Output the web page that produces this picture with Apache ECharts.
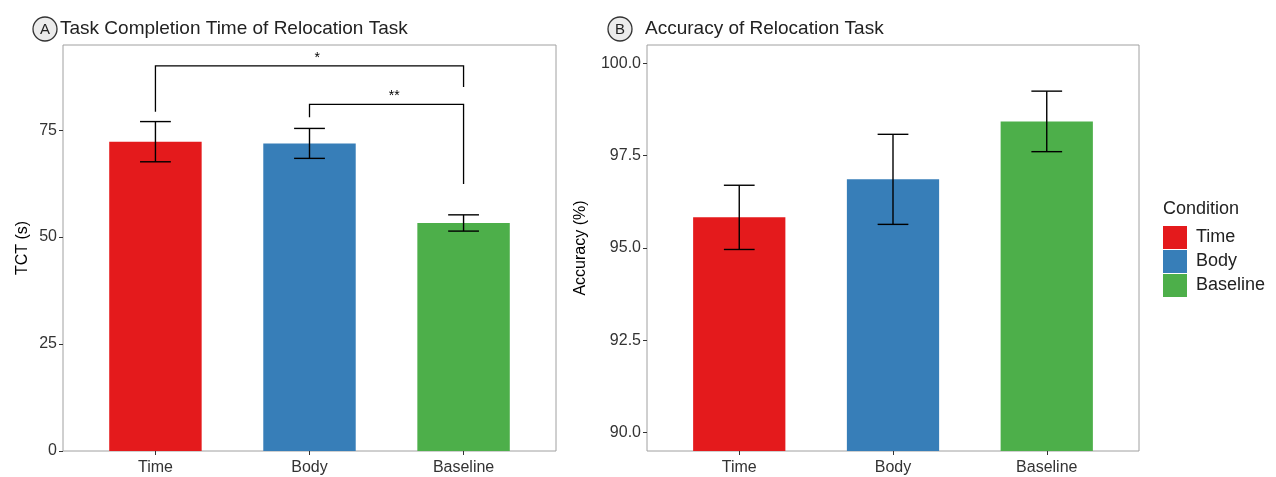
<!DOCTYPE html>
<html>
<head>
<meta charset="utf-8">
<script src="https://cdn.jsdelivr.net/npm/echarts@6/dist/echarts.min.js"></script>
<style>
  html, body { margin: 0; padding: 0; background: #fff; }
  #chart { width: 1276px; height: 477px; }
</style>
</head>
<body>
<div id="chart"></div>
<script>
"use strict";
/** Conditions shown on both panels (x categories and legend) */
const conditions = ["Time", "Body", "Baseline"];
/** Panel A: task completion time, mean and error half-width */
const tctMean = [72.3, 71.9, 53.3];
const tctErr = [4.7, 3.5, 1.9];
const tctTicks = [0, 25, 50, 75];
/** Panel B: accuracy, mean and error half-width */
const accMean = [95.83, 96.86, 98.43];
const accErr = [0.87, 1.22, 0.82];
const accTicks = [90, 92.5, 95, 97.5, 100];
/** Significance brackets on panel A: [from, to] category positions */
const sigPairs = [[1, 3], [2, 3]];
const sigTop = [90.0, 81.0];
const sigLegEnds = [[79.3, 85.1], [78.0, 62.4]];
const sigLabels = ["*", "**"];

const palette = ["#E41A1C", "#377EB8", "#4DAF4A"];
const FONT = "Liberation Sans";
const TICK_COLOR = "#333";

let chart = echarts.init(document.getElementById("chart"));

function RenderBar(params, api) {
    const x = api.value(0), y = api.value(1);
    const cs = params.coordSys;
    const left = api.coord([x - 0.3, y]);
    const right = api.coord([x + 0.3, y]);
    const bottom = cs.y + cs.height;
    return {
        type: "rect",
        shape: { x: left[0], y: left[1], width: right[0] - left[0], height: bottom - left[1] },
        style: api.style()
    };
}

function RenderErrorBar(params, api) {
    const x = api.value(0), lo = api.value(1), hi = api.value(2);
    const top = api.coord([x, hi]);
    const bot = api.coord([x, lo]);
    const capL = api.coord([x - 0.1, hi])[0];
    const capR = api.coord([x + 0.1, hi])[0];
    const lineStyle = { stroke: "#000", lineWidth: 1.4 };
    return {
        type: "group",
        children: [
            { type: "line", shape: { x1: top[0], y1: top[1], x2: bot[0], y2: bot[1] }, style: lineStyle },
            { type: "line", shape: { x1: capL, y1: top[1], x2: capR, y2: top[1] }, style: lineStyle },
            { type: "line", shape: { x1: capL, y1: bot[1], x2: capR, y2: bot[1] }, style: lineStyle }
        ]
    };
}

function RenderBracket(params, api) {
    const i = params.dataIndex;
    const x1 = api.value(0), x2 = api.value(1), yTop = api.value(2);
    const a = api.coord([x1, sigLegEnds[i][0]]);
    const b = api.coord([x1, yTop]);
    const c = api.coord([x2, yTop]);
    const d = api.coord([x2, sigLegEnds[i][1]]);
    const mid = api.coord([(x1 + x2) / 2 + 0.05, yTop]);
    return {
        type: "group",
        children: [
            {
                type: "polyline",
                shape: { points: [a, b, c, d] },
                style: { stroke: "#000", lineWidth: 1.3, fill: null }
            },
            {
                type: "text",
                style: {
                    x: mid[0], y: mid[1] - 1, text: sigLabels[i],
                    fontSize: 14, fontFamily: FONT, fill: "#000",
                    align: "center", verticalAlign: "bottom"
                }
            }
        ]
    };
}

function BarSeries(gridIdx, means) {
    return conditions.map((name, i) => ({
        type: "custom",
        name: name,
        xAxisIndex: gridIdx,
        yAxisIndex: gridIdx,
        itemStyle: { color: palette[i] },
        clip: true,
        renderItem: RenderBar,
        data: [[i + 1, means[i]]],
        z: 2
    }));
}

function ErrorSeries(gridIdx, means, errs) {
    return {
        type: "custom",
        xAxisIndex: gridIdx,
        yAxisIndex: gridIdx,
        renderItem: RenderErrorBar,
        data: means.map((m, i) => [i + 1, m - errs[i], m + errs[i]]),
        z: 3
    };
}

function XAxis(gridIdx) {
    return {
        type: "value",
        gridIndex: gridIdx,
        min: 0.4,
        max: 3.6,
        splitLine: { show: false },
        axisLine: { show: false },
        axisTick: { show: true, length: 4, customValues: [1, 2, 3], lineStyle: { color: "#333" } },
        axisLabel: {
            customValues: [1, 2, 3],
            formatter: (v) => conditions[Math.round(v) - 1] || "",
            color: TICK_COLOR, fontSize: 16, fontFamily: FONT, margin: 9
        }
    };
}

function YAxis(gridIdx, min, max, ticks, name, nameGap, digits) {
    return {
        type: "value",
        gridIndex: gridIdx,
        min: min,
        max: max,
        name: name,
        nameLocation: "middle",
        nameGap: nameGap,
        nameTextStyle: { color: "#000", fontSize: 16, fontFamily: FONT },
        splitLine: { show: false },
        axisLine: { show: false },
        axisTick: { show: true, length: 4, customValues: ticks, lineStyle: { color: "#333" } },
        axisLabel: {
            customValues: ticks,
            formatter: (v) => v.toFixed(digits),
            color: TICK_COLOR, fontSize: 16, fontFamily: FONT, margin: 6
        }
    };
}

function PanelTag(cx, cy, letter) {
    return [
        { type: "circle", shape: { cx: cx, cy: cy, r: 12 }, style: { fill: "#EBEBEB", stroke: "#333", lineWidth: 1.3 } },
        {
            type: "text",
            style: { x: cx, y: cy + 1, text: letter, fontSize: 15, fontFamily: FONT, fill: "#222", align: "center", verticalAlign: "middle" }
        }
    ];
}

const option = {
    animation: false,
    backgroundColor: "#fff",
    title: [
        { text: "Task Completion Time of Relocation Task", left: 60, top: 19, padding: 0, textStyle: { fontSize: 19, fontWeight: "normal", fontFamily: FONT, color: "#222" } },
        { text: "Accuracy of Relocation Task", left: 645, top: 19, padding: 0, textStyle: { fontSize: 19, fontWeight: "normal", fontFamily: FONT, color: "#222" } },
        { text: "Condition", left: 1163, top: 200, padding: 0, textStyle: { fontSize: 18, fontWeight: "normal", fontFamily: FONT, color: "#222" } }
    ],
    legend: {
        data: conditions,
        orient: "vertical",
        left: 1163,
        top: 226,
        padding: 0,
        icon: "rect",
        itemWidth: 24,
        itemHeight: 23,
        itemGap: 1,
        selectedMode: false,
        textStyle: { fontSize: 18, fontFamily: FONT, color: "#222", padding: [0, 0, 0, 4] }
    },
    grid: [
        { left: 63, width: 493, top: 45, height: 406, show: true, borderColor: "#A0A0A0", borderWidth: 1, backgroundColor: "transparent" },
        { left: 647, width: 492, top: 45, height: 406, show: true, borderColor: "#A0A0A0", borderWidth: 1, backgroundColor: "transparent" }
    ],
    xAxis: [XAxis(0), XAxis(1)],
    yAxis: [
        YAxis(0, 0, 94.9, tctTicks, "TCT (s)", 32, 0),
        YAxis(1, 89.5, 100.5, accTicks, "Accuracy (%)", 58, 1)
    ],
    graphic: [].concat(PanelTag(45, 29, "A"), PanelTag(620, 29, "B")),
    series: [].concat(
        BarSeries(0, tctMean),
        BarSeries(1, accMean),
        [ErrorSeries(0, tctMean, tctErr), ErrorSeries(1, accMean, accErr)],
        [{
            type: "custom",
            xAxisIndex: 0,
            yAxisIndex: 0,
            renderItem: RenderBracket,
            data: sigPairs.map((p, i) => [p[0], p[1], sigTop[i]]),
            z: 4
        }]
    )
};
chart.setOption(option);
</script>
</body>
</html>
